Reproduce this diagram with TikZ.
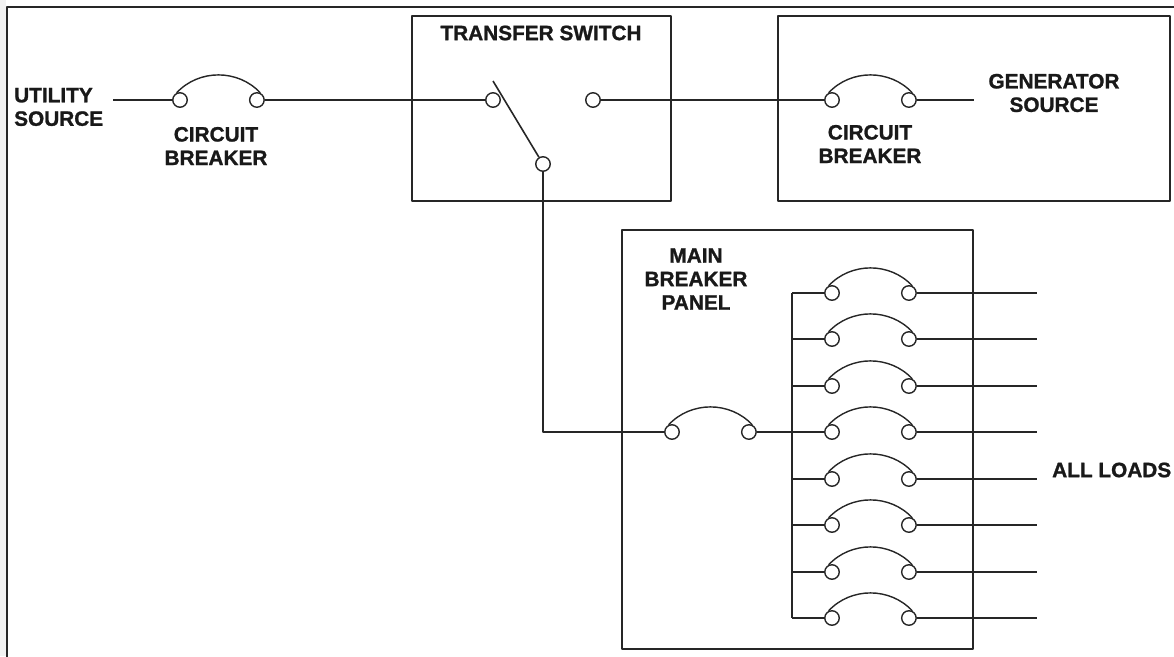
\documentclass[tikz,border=0pt]{standalone}
\usepackage{fontspec}
\setmainfont{Liberation Sans}
\newfontfamily\tagfont[FakeBold=1.2]{Liberation Sans Bold}
\usetikzlibrary{positioning}

% breaker: name, x of left contact, y
\newcommand\breaker[3]{%
  \node[contact] (#1-l) at (#2,#3) {};
  \node[contact, right=61pt of #1-l] (#1-r) {};
  \draw[swing] (#1-l.115) to (#1-r.65);
}

\begin{document}
\begin{tikzpicture}[x=1pt, y=-1pt, line join=round]

  \def\mainy{100}
  \def\rowtop{293}
  \def\rowgap{46.43}

  % Styles
  \tikzset{
    wire/.style={line width=1.6pt, black!85},
    box/.style={line width=1.6pt, black!85},
    contact/.style={circle, draw=black!85, line width=1.4pt, fill=white,
      inner sep=0pt, minimum size=14.5pt},
    swing/.style={line width=1.4pt, black!85, bend left=47},
    tag/.style={font=\tagfont\fontsize{20.8}{23.5}\selectfont, align=center,
      inner sep=0pt, text=black!90},
  }

  \useasboundingbox (0,0) rectangle (1174,656);
  \fill[black!5] (0,0) rectangle (6,656);

  % Outer frame
  \draw[line width=2.4pt, black!85] (7,660) |- (1180,7);

  % Boxes
  \draw[box] (412,16) rectangle (671,201);
  \draw[box] (778,16) rectangle (1170,201);
  \draw[box] (622,230) rectangle (973,649);

  % Utility side
  \node[tag, align=left, anchor=west] (utility) at (14,107) {UTILITY\\SOURCE};
  \coordinate (util) at (113,\mainy);
  \breaker{ucb}{180}{\mainy}
  \node[tag] (ucb-tag) at (216,146) {CIRCUIT\\BREAKER};
  \draw[wire] (util) -- (ucb-l);

  % Transfer switch
  \node[tag] (ts-tag) at (541,33) {TRANSFER SWITCH};
  \node[contact] (ts-l) at (493,\mainy) {};
  \node[contact] (ts-r) at (593,\mainy) {};
  \node[contact] (ts-p) at (543,164) {};
  \coordinate (blade) at (493,81);
  \draw[wire] (blade) -- (ts-p);
  \draw[wire] (ucb-r) -- (ts-l);

  % Generator side
  \breaker{gcb}{832}{\mainy}
  \node[tag] (gcb-tag) at (870,144) {CIRCUIT\\BREAKER};
  \node[tag] (gen-tag) at (1054,93) {GENERATOR\\SOURCE};
  \coordinate (gen) at (974,\mainy);
  \draw[wire] (ts-r) -- (gcb-l);
  \draw[wire] (gcb-r) -- (gen);

  % Main breaker panel
  \node[tag] (panel-tag) at (696,279) {MAIN\\BREAKER\\PANEL};
  \breaker{mcb}{672}{432}
  \draw[wire] (ts-p) |- (mcb-l);

  \foreach \i in {0,...,7} {
    \pgfmathsetmacro{\rowy}{round(\rowtop+\i*\rowgap)}
    \coordinate (bus-\i) at (792,\rowy);
    \coordinate (load-\i) at (1037,\rowy);
    \breaker{cb\i}{832}{\rowy}
    \draw[wire] (bus-\i) -- (cb\i-l);
    \draw[wire] (cb\i-r) -- (load-\i);
  }
  \draw[wire] (bus-0) -- (bus-7);
  \draw[wire] (mcb-r) -- (bus-3);

  \node[tag, anchor=west] (loads) at (1052,470) {ALL LOADS};

\end{tikzpicture}
\end{document}
